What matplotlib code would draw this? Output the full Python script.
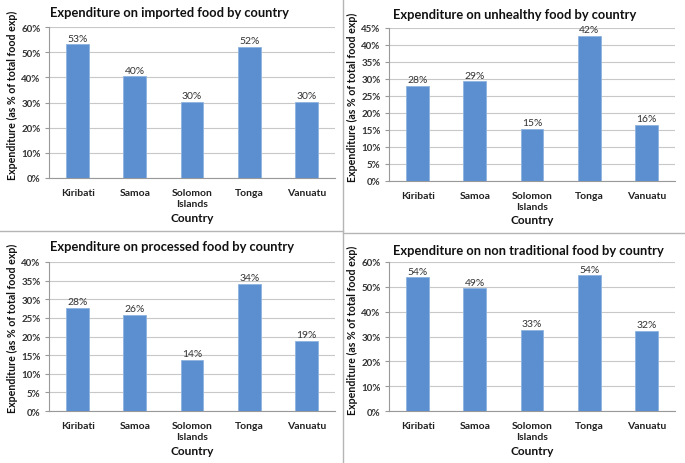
import matplotlib
matplotlib.use("Agg")
import matplotlib.pyplot as plt
from matplotlib.lines import Line2D

# =========================================================================
#  Data (percent of total food expenditure)
# =========================================================================
countries = ["Kiribati", "Samoa", "Solomon\nIslands", "Tonga", "Vanuatu"]

imported = [53.1, 40.4, 30.3, 52.1, 30.1]
unhealthy = [28.0, 29.3, 15.2, 42.7, 16.4]
processed = [27.6, 25.9, 13.7, 34.2, 18.8]
non_traditional = [53.8, 49.4, 32.7, 54.6, 32.4]

labels_imported = ["53%", "40%", "30%", "52%", "30%"]
labels_unhealthy = ["28%", "29%", "15%", "42%", "16%"]
labels_processed = ["28%", "26%", "14%", "34%", "19%"]
labels_non_traditional = ["54%", "49%", "33%", "54%", "32%"]

titles = [
    "Expenditure on imported food by country",
    "Expenditure on unhealthy food by country",
    "Expenditure on processed food by country",
    "Expenditure on non traditional food by country",
]

# =========================================================================
#  Layout (pixel boxes: left, right, top, bottom)
# =========================================================================
W, H = 685, 464
BAR_COLOR = "#5b8fcf"
GRID_COLOR = "#c8c8c8"
FONT = "Lato"

panels = [
    dict(vals=imported, labs=labels_imported, ymax=60, step=10,
         box=(49, 335, 28, 179), title_xy=(50, 13), ylab_xy=(12, 95), xlab_y=219),
    dict(vals=unhealthy, labs=labels_unhealthy, ymax=45, step=5,
         box=(389, 675, 29, 182), title_xy=(393, 15), ylab_xy=(352, 97), xlab_y=221),
    dict(vals=processed, labs=labels_processed, ymax=40, step=5,
         box=(49, 335, 263, 412), title_xy=(50, 247), ylab_xy=(12, 328), xlab_y=452),
    dict(vals=non_traditional, labs=labels_non_traditional, ymax=60, step=10,
         box=(389, 675, 263, 412), title_xy=(393, 251), ylab_xy=(352, 330), xlab_y=452),
]

fig = plt.figure(figsize=(W / 100, H / 100), dpi=100)
fig.patch.set_facecolor("white")

for p, title in zip(panels, titles):
    l, r, t, b = p["box"]
    ax = fig.add_axes([l / W, 1 - b / H, (r - l) / W, (b - t) / H])
    x = range(len(countries))
    ax.bar(x, p["vals"], width=0.4, color=BAR_COLOR, edgecolor="#8fb4e0",
           linewidth=0.6, zorder=3)
    for xi, v, s in zip(x, p["vals"], p["labs"]):
        ax.text(xi, v + p["ymax"] * 0.012, s, ha="center", va="bottom",
                fontsize=7.5, family=FONT, color="#333333")
    ax.set_xlim(-0.5, len(countries) - 0.5)
    ax.set_ylim(0, p["ymax"])
    ticks = list(range(0, p["ymax"] + 1, p["step"]))
    ax.set_yticks(ticks)
    ax.set_yticklabels([f"{v}%" for v in ticks], fontsize=7, family=FONT,
                       fontweight="bold", color="#333333")
    ax.set_xticks(list(x))
    ax.set_xticklabels(countries, fontsize=7.5, family=FONT,
                       fontweight="bold", color="#222222", linespacing=1.3)
    ax.tick_params(axis="x", length=0, pad=7)
    ax.tick_params(axis="y", length=3, color="#999999", pad=3)
    ax.yaxis.grid(True, color=GRID_COLOR, linewidth=0.8, zorder=0)
    for side in ("top", "right"):
        ax.spines[side].set_visible(False)
    for side in ("left", "bottom"):
        ax.spines[side].set_color("#999999")
        ax.spines[side].set_linewidth(0.8)

    fig.text(p["title_xy"][0] / W, 1 - p["title_xy"][1] / H, title,
             ha="left", va="center", fontsize=9.3, family=FONT,
             fontweight="bold", color="#111111")
    fig.text(p["ylab_xy"][0] / W, 1 - p["ylab_xy"][1] / H,
             "Expenditure (as % of total food exp)", rotation=90,
             ha="center", va="center", fontsize=7.7, family=FONT,
             fontweight="bold", color="#111111")
    fig.text((l + r) / 2 / W, 1 - p["xlab_y"] / H, "Country", ha="center",
             va="center", fontsize=8.6, family=FONT, fontweight="bold",
             color="#111111")

# panel divider lines
div = dict(color="#b5b5b5", linewidth=1.0, transform=fig.transFigure)
fig.add_artist(Line2D([342.5 / W, 342.5 / W], [0, 1], **div))
fig.add_artist(Line2D([0, 342.5 / W], [1 - 232 / H, 1 - 232 / H], **div))
fig.add_artist(Line2D([342.5 / W, 1], [1 - 233.5 / H, 1 - 233.5 / H], **div))

fig.savefig("out.png", dpi=100, facecolor="white")
